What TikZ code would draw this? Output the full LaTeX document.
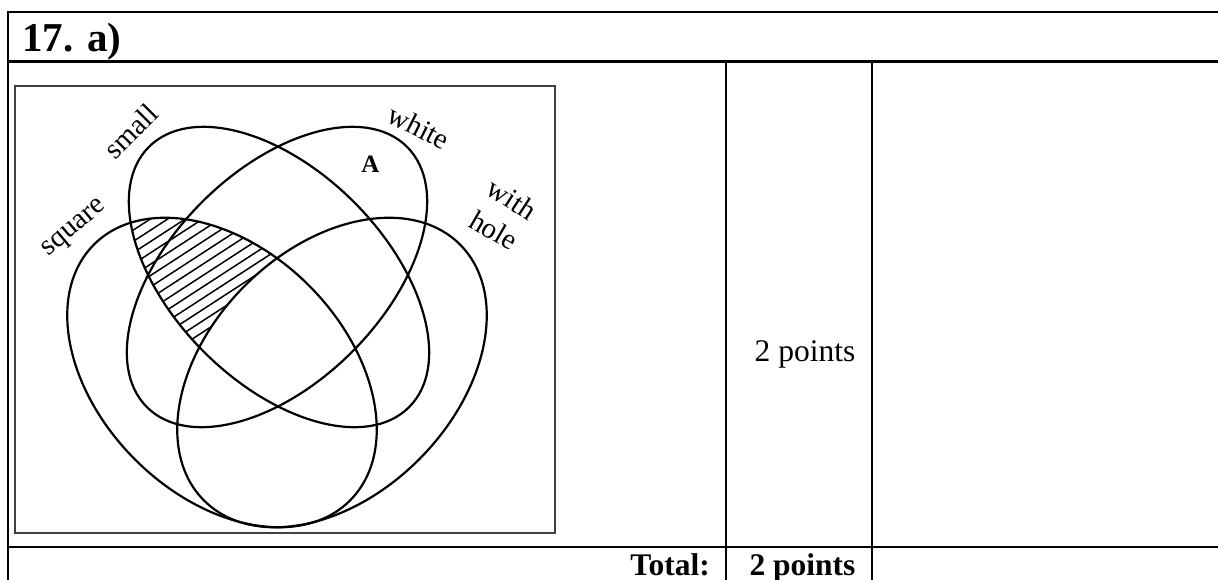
\documentclass[tikz,border=0pt]{standalone}
\usepackage{fontspec}
\setmainfont{Liberation Serif}
\begin{document}
\begin{tikzpicture}[x=1pt,y=-1pt,
  tbl/.style={line width=2.2pt, line cap=rect},
  venn/.style={line width=2.2pt},
  hatchln/.style={line width=1.5pt},
  lbl/.style={inner sep=0pt, font=\fontsize{29}{32}\selectfont},
  big/.style={inner sep=0pt, font=\fontsize{31.5}{36}\selectfont},
  smT/.style={rotate around={-45:(279,277)}},
  whT/.style={rotate around={45:(277,277)}},
  sqT/.style={rotate around={-45:(222,372.5)}},
  hoT/.style={rotate around={45:(332,372.5)}},
]
\useasboundingbox (0,0) rectangle (1218,579);

% table
\draw[tbl] (8,12) -- (1218,12);
\draw[tbl] (8,61.5) -- (1218,61.5);
\draw[tbl] (8,546.7) -- (1218,546.7);
\draw[tbl] (8,12) -- (8,579);
\draw[tbl] (726,61.5) -- (726,579);
\draw[tbl] (872,61.5) -- (872,579);

\node[inner sep=0pt, anchor=base west, font=\fontsize{41}{45}\selectfont\bfseries] (head) at (22,51.5) {17. a)};
\node[big, anchor=base] (pts) at (805,361.5) {2 points};
\node[big, anchor=base east, font=\fontsize{31.5}{36}\selectfont\bfseries] (total) at (710,575.5) {Total:};
\node[big, anchor=base, font=\fontsize{31.5}{36}\selectfont\bfseries] (tpts) at (802.5,575.5) {2 points};

% picture frame
\draw[line width=1.5pt, draw=black!75] (15,86) rectangle (555,533);

% hatching: square and small, not with hole
\begin{scope}
  \clip[sqT] (222,372.5) ellipse [x radius=181pt, y radius=123pt];
  \clip[smT] (279,277) ellipse [x radius=184pt, y radius=106pt];
  \begin{scope}[shift={(200,300)}, rotate=33]
    \foreach \k in {-30,...,30} \draw[hatchln] (-300,\k*9.5) -- (300,\k*9.5);
  \end{scope}
  \fill[white, hoT] (332,372.5) ellipse [x radius=181pt, y radius=123pt];
\end{scope}

% sets
\draw[venn, smT] (279,277) ellipse [x radius=184pt, y radius=106pt];
\draw[venn, whT] (277,277) ellipse [x radius=184pt, y radius=106pt];
\draw[venn, sqT] (222,372.5) ellipse [x radius=181pt, y radius=123pt];
\draw[venn, hoT] (332,372.5) ellipse [x radius=181pt, y radius=123pt];

% labels
\node[lbl, rotate=45] (lsmall) at (131,131) {small};
\node[lbl, rotate=-27] (lwhite) at (419,127) {white};
\node[lbl, rotate=40] (lsquare) at (75,229) {square};
\node[lbl, rotate=-33] (lwith) at (512,199) {with};
\node[lbl, rotate=-30] (lhole) at (494,230) {hole};
\node[inner sep=0pt, font=\fontsize{25}{28}\selectfont\bfseries] (la) at (370.4,164.3) {A};
\end{tikzpicture}
\end{document}
